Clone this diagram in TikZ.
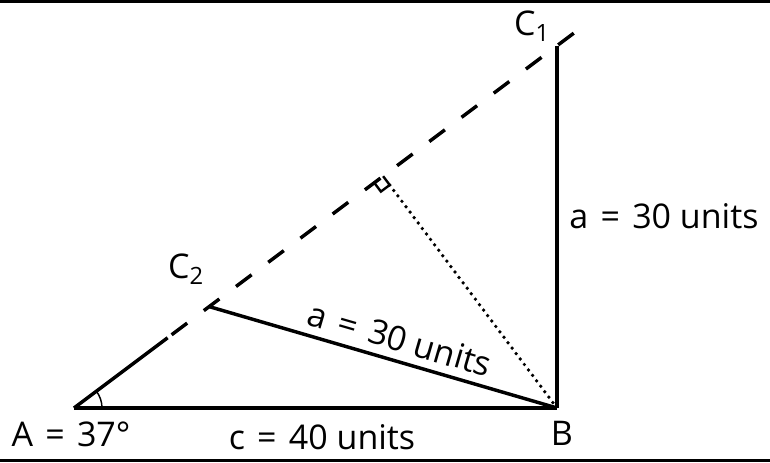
\documentclass[tikz,border=0pt]{standalone}
\usepackage{fontspec}
\setmainfont{Open Sans}
\newcommand{\myeq}{\hspace{0.36em}=\hspace{0.36em}}
\begin{document}
\begin{tikzpicture}[x=0.75pt,y=-0.75pt,
  side/.style={line width=2.6pt,line cap=butt},
  dashside/.style={line width=2.6pt,dash pattern=on 14.6pt off 15.6pt},
  dotside/.style={line width=2.8pt,line cap=round,dash pattern=on 0pt off 5.1pt},
  thin/.style={line width=1.1pt},
  lbl/.style={inner sep=0pt,font=\fontsize{25.5}{29}\selectfont},
  border/.style={line width=2.2pt}]
\useasboundingbox (0,0) rectangle (770,463);
% points
\coordinate (A) at (74,408);
\coordinate (B) at (557,408);
\coordinate (C1) at (557,45.75);
\coordinate (C2) at (209.2,306.6);
\coordinate (D) at (383.1,176.2);
\coordinate (S) at (167.6,337.8);
\coordinate (P) at (171.6,334.8);
\coordinate (E) at (574.8,32.4);
\coordinate (M1) at (374.3,182.8);
\coordinate (M2) at (380.9,191.6);
\coordinate (M3) at (389.7,185.0);
% borders
\coordinate (TL) at (0,1.3); \coordinate (TR) at (770,1.3);
\coordinate (BL) at (0,460.2); \coordinate (BR) at (770,460.2);
\draw[border] (TL) -- (TR);
\draw[border] (BL) -- (BR);
% triangle sides
\draw[side] (A) -- (B);
\draw[side] (B) -- (C1);
\draw[side] (B) -- (C2);
\draw[side] (A) -- (S);
\draw[dashside] (P) -- (E);
\draw[dotside] (M3) -- (B);
% right-angle mark
\draw[line width=1.8pt] (M1) -- (M2) -- (M3) -- (D);
% angle arc at A
\draw[thin] ([shift={(21pt,0pt)}]A) arc[start angle=0,end angle=36.87,radius=21pt];
% labels
\node[lbl] (lC1) at (532,26) {C\textsubscript{1}};
\node[lbl] (lC2) at (186,269) {C\textsubscript{2}};
\node[lbl] (lA) at (71,434) {A\myeq 37°};
\node[lbl] (lc) at (322,437) {c\myeq 40 units};
\node[lbl] (lB) at (562,433) {B};
\node[lbl] (la1) at (664,216) {a\myeq 30 units};
\node[lbl,rotate=-16.2] (la2) at (400,339) {a\myeq 30 units};
\end{tikzpicture}
\end{document}
